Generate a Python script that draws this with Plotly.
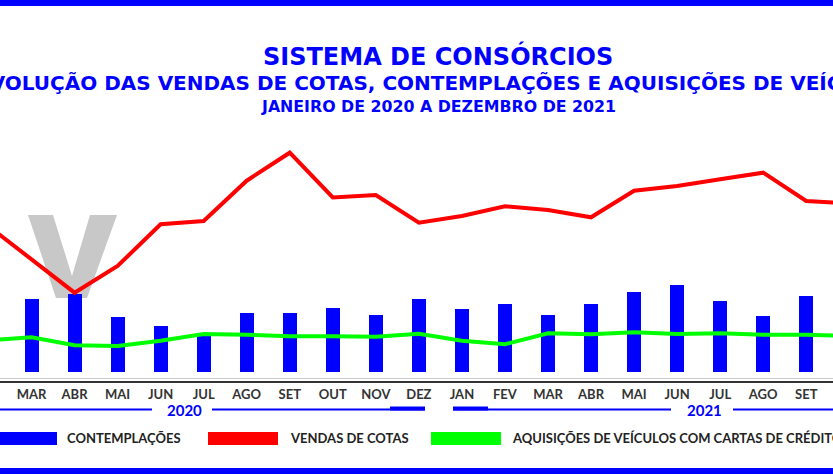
import plotly.graph_objects as go

# ---------------- data ----------------
months = ["JAN", "FEV", "MAR", "ABR", "MAI", "JUN", "JUL", "AGO", "SET", "OUT", "NOV", "DEZ",
          "JAN", "FEV", "MAR", "ABR", "MAI", "JUN", "JUL", "AGO", "SET", "OUT", "NOV", "DEZ"]
years = ["2020"] * 12 + ["2021"] * 12

# thousands; None = not visible in the cropped image
contemplacoes = [None, None, 72.7, 77.7, 54.7, 45.7, 36.3, 59.3, 59.3, 64.0, 57.3, 73.3,
                 62.7, 68.0, 57.3, 67.7, 80.3, 87.3, 71.3, 56.3, 76.0, None, None, None]
vendas_cotas = [None, 146.0, 113.0, 79.3, 106.0, 147.7, 151.0, 191.3, 219.3, 174.5, 177.0, 149.3,
                156.0, 165.7, 162.0, 154.7, 181.3, 186.0, 192.7, 199.3, 171.0, 168.5, None, None]
aquisicoes = [None, 31.8, 34.7, 26.7, 26.0, 31.3, 38.0, 37.3, 35.7, 35.7, 35.3, 38.3,
              31.3, 27.7, 38.7, 37.7, 39.7, 38.0, 38.7, 37.3, 37.3, 36.0, None, None]

legend_labels = ["CONTEMPLAÇÕES", "VENDAS DE COTAS", "AQUISIÇÕES DE VEÍCULOS COM CARTAS DE CRÉDITO"]
titles = ["SISTEMA DE CONSÓRCIOS",
          "EVOLUÇÃO DAS VENDAS DE COTAS, CONTEMPLAÇÕES E AQUISIÇÕES DE VEÍCULOS",
          "JANEIRO DE 2020 A DEZEMBRO DE 2021"]

x = list(range(len(months)))

# ---------------- layout helpers ----------------
W, H = 833, 474
PLOT_H = 381  # plot area height in px (top margin 0)


def px(v):
    return v / W


def py(v):
    return (PLOT_H - v) / PLOT_H


BLUE = "#0000ff"
RED = "#ff0000"
GREEN = "#00ff00"

fig = go.Figure()
fig.add_trace(go.Bar(x=x, y=contemplacoes, marker=dict(color=BLUE, line=dict(width=0)),
                     width=0.325, name=legend_labels[0]))
fig.add_trace(go.Scatter(x=x, y=aquisicoes, mode="lines", line=dict(color=GREEN, width=4),
                         name=legend_labels[2]))
fig.add_trace(go.Scatter(x=x, y=vendas_cotas, mode="lines", line=dict(color=RED, width=4),
                         name=legend_labels[1]))

shapes = []
# background "V" watermark
vpts = [(28, 215), (53, 215), (72, 276), (90, 215), (117, 215), (87, 298), (56, 298)]
path = "M " + " L ".join(f"{px(a):.5f},{py(b):.5f}" for a, b in vpts) + " Z"
shapes.append(dict(type="path", path=path, xref="paper", yref="paper",
                   fillcolor="#c8c8c8", line=dict(width=0), layer="below"))
# top / bottom blue bars
shapes.append(dict(type="rect", xref="paper", yref="paper", x0=0, x1=1, y0=py(0), y1=py(6),
                   fillcolor=BLUE, line=dict(width=0)))
shapes.append(dict(type="rect", xref="paper", yref="paper", x0=0, x1=1, y0=py(468), y1=py(474),
                   fillcolor=BLUE, line=dict(width=0)))
# light gray line above axis
shapes.append(dict(type="line", xref="paper", yref="paper", x0=0, x1=1, y0=py(378.5), y1=py(378.5),
                   line=dict(color="#c8c8c8", width=1)))
# year brackets
for a, b in [(-5, 152), (212, 425), (453, 671), (733, 840)]:
    shapes.append(dict(type="line", xref="paper", yref="paper", x0=px(a), x1=px(b),
                       y0=py(409.5), y1=py(409.5), line=dict(color=BLUE, width=2)))
for a, b in [(390, 425), (453, 488)]:
    shapes.append(dict(type="line", xref="paper", yref="paper", x0=px(a), x1=px(b),
                       y0=py(408.5), y1=py(408.5), line=dict(color=BLUE, width=4)))
# legend swatches
for a, b, c in [(-5, 57, BLUE), (208, 278, RED), (431, 501, GREEN)]:
    shapes.append(dict(type="rect", xref="paper", yref="paper", x0=px(a), x1=px(b),
                       y0=py(445), y1=py(432), fillcolor=c, line=dict(width=0)))

annotations = []
tfont = "DejaVu Sans"
for txt, yy, sz in [(titles[0], 56, 24), (titles[1], 83, 20), (titles[2], 106, 15.8)]:
    annotations.append(dict(text=f"<b>{txt}</b>", x=px(438), y=py(yy), xref="paper", yref="paper",
                            xanchor="center", yanchor="middle", showarrow=False,
                            font=dict(family=tfont, size=sz, color=BLUE)))
for txt, xx in [("2020", 184), ("2021", 704)]:
    annotations.append(dict(text=f"<b>{txt}</b>", x=px(xx), y=py(410), xref="paper", yref="paper",
                            xanchor="center", yanchor="middle", showarrow=False,
                            font=dict(family="Lato", size=15, color=BLUE)))
for txt, xx in zip(legend_labels, [65, 288, 510]):
    annotations.append(dict(text=f"<b>{txt}</b>", x=px(xx), y=py(438.5), xref="paper", yref="paper",
                            xanchor="left", yanchor="middle", showarrow=False,
                            font=dict(family="Lato", size=13, color="#222222")))

fig.update_layout(
    width=W, height=H,
    margin=dict(l=0, r=0, t=0, b=H - PLOT_H, pad=0),
    paper_bgcolor="white", plot_bgcolor="white",
    showlegend=False,
    bargap=0,
    shapes=shapes,
    annotations=annotations,
    xaxis=dict(range=[1.268, 20.622], tickvals=x, ticktext=months, showgrid=False,
               zeroline=False, showline=True, linecolor="#333333", linewidth=2,
               ticks="", tickfont=dict(family="Lato", size=13, color="#333333", weight="bold"),
               ticklabelstandoff=0),
    yaxis=dict(range=[-9, 372], visible=False, showgrid=False, zeroline=False),
)

fig.write_html("out.html")
